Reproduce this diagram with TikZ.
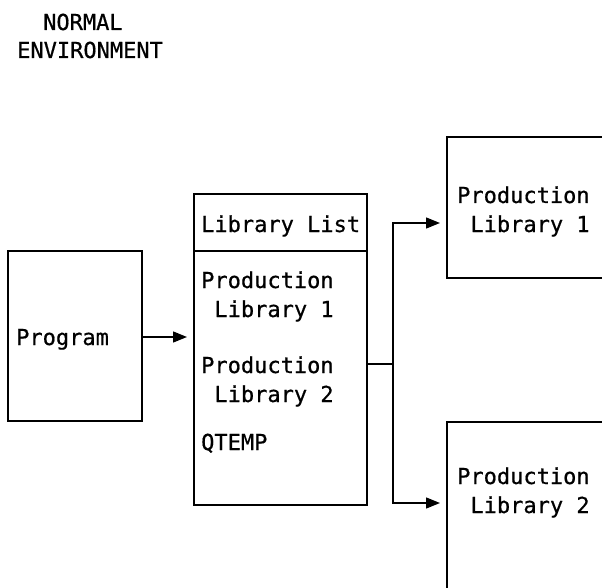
\documentclass[tikz,border=0pt]{standalone}
\usepackage{fontspec}
\setmonofont[FakeBold=0.6]{DejaVu Sans Mono}
\usetikzlibrary{arrows.meta}
\begin{document}
\begin{tikzpicture}[x=1pt,y=-1pt,
  lbl/.style={anchor=base west,inner sep=0pt,font=\ttfamily\fontsize{22}{29}\selectfont,align=left},
  frame/.style={line width=1.6pt},
  conn/.style={line width=1.4pt},
  arr/.style={conn,-{Triangle[length=14pt,width=11pt]},shorten >=7pt}]
\clip (0,0) rectangle (602,588);
\useasboundingbox (0,0) rectangle (602,588);
% title
\node[lbl] (t1) at (43,30) {NORMAL};
\node[lbl] (t2) at (17,58) {ENVIRONMENT};
% program box
\draw[frame] (8,251) rectangle (142,421);
\coordinate (progE) at (142,337);
\node[lbl] (prog) at (16,345) {Program};
% library list box
\draw[frame] (194,194) rectangle (367,505);
\draw[frame] (194,251) -- (367,251);
\coordinate (libW) at (194,337);
\coordinate (libE) at (367,364);
\node[lbl] (hdr) at (201,232) {Library List};
\node[lbl] (l1) at (201,317) {Production\\\phantom{x}Library 1};
\node[lbl] (l2) at (201,402) {Production\\\phantom{x}Library 2};
\node[lbl] (l3) at (201,450) {QTEMP};
% right boxes
\draw[frame] (620,137) -- (447,137) -- (447,278) -- (620,278);
\draw[frame] (620,422) -- (447,422) -- (447,600);
\coordinate (p1W) at (447,223);
\coordinate (p2W) at (447,503);
\node[lbl] (p1) at (457,232) {Production\\\phantom{x}Library 1};
\node[lbl] (p2) at (457,513) {Production\\\phantom{x}Library 2};
% connectors
\draw[arr] (progE) -- (libW);
\coordinate (br) at (393,364);
\draw[conn] (libE) -- (br);
\draw[arr] (br) |- (p1W);
\draw[arr] (br) |- (p2W);
\end{tikzpicture}
\end{document}
